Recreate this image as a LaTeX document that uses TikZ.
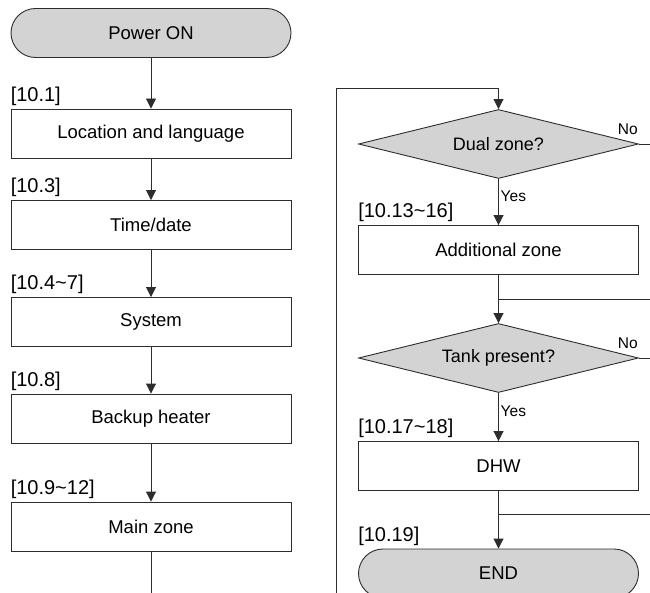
\documentclass[tikz,border=0pt]{standalone}
\usepackage{fontspec}
\setmainfont{Liberation Sans}
\usetikzlibrary{shapes.geometric,arrows.meta,positioning}
\definecolor{LineGray}{RGB}{45,45,45}
\definecolor{FillGray}{RGB}{211,211,211}
\tikzset{
  sbox/.style={draw=LineGray,fill=white,rectangle,minimum width=280pt,
               minimum height=49pt,inner sep=0pt,
               font=\fontsize{18.5}{22}\selectfont,line width=0.9pt},
  tbox/.style={sbox,fill=FillGray,rounded corners=24.5pt},
  dbox/.style={draw=LineGray,fill=FillGray,diamond,aspect=4,inner sep=0pt,
               minimum width=280pt,minimum height=69pt,
               font=\fontsize{18}{22}\selectfont,line width=0.9pt},
  tag/.style={inner sep=0pt,font=\fontsize{20}{24}\selectfont},
  ans/.style={inner sep=0pt,font=\fontsize{15.5}{18}\selectfont},
  arr/.style={-{Triangle[length=10pt,width=10pt]},LineGray,line width=0.9pt},
  wire/.style={LineGray,line width=0.9pt},
}

\begin{document}
\begin{tikzpicture}[x=1pt,y=-1pt]
  \useasboundingbox (0,0) rectangle (650,593);
  \clip (0,0) rectangle (650,593);

  % left column
  \node[tbox] (power) at (151,33) {Power ON};
  \node[sbox] (loc) at (151,133.5) {Location and language};
  \node[sbox] (time) at (151,225) {Time/date};
  \node[sbox] (sys) at (151,322) {System};
  \node[sbox] (backup) at (151,418.5) {Backup heater};
  \node[sbox] (mainz) at (151,526.5) {Main zone};

  \node[tag, above right=3pt and 0pt of loc.north west] (tagloc) {[10.1]};
  \node[tag, above right=3pt and 0pt of time.north west] (tagtime) {[10.3]};
  \node[tag, above right=3pt and 0pt of sys.north west] (tagsys) {[10.4\textasciitilde7]};
  \node[tag, above right=3pt and 0pt of backup.north west] (tagbackup) {[10.8]};
  \node[tag, above right=3pt and 0pt of mainz.north west] (tagmainz) {[10.9\textasciitilde12]};

  \coordinate (mainout) at (151,593);

  \draw[arr] (power) -- (loc);
  \draw[arr] (loc) -- (time);
  \draw[arr] (time) -- (sys);
  \draw[arr] (sys) -- (backup);
  \draw[arr] (backup) -- (mainz);
  \draw[wire] (mainz) -- (mainout);

  % right column
  \node[dbox] (dual) at (498.5,144) {Dual zone?};
  \node[sbox] (addz) at (498.5,250) {Additional zone};
  \node[dbox] (tank) at (498.5,358) {Tank present?};
  \node[sbox] (dhw) at (498.5,466) {DHW};
  \node[tbox] (finish) at (498.5,573.5) {END};

  \node[tag, above right=3pt and 0pt of addz.north west] (tagaddz) {[10.13\textasciitilde16]};
  \node[tag, above right=3pt and 0pt of dhw.north west] (tagdhw) {[10.17\textasciitilde18]};
  \node[tag, above right=3pt and 0pt of finish.north west] (tagfinish) {[10.19]};

  \node[ans, below right=12pt and 2pt of dual.south] (yesdual) {Yes};
  \node[ans, below right=13pt and 2pt of tank.south] (yestank) {Yes};
  \node[ans, above left=9pt and 1pt of dual.east] (nodual) {No};
  \node[ans, above left=9pt and 1pt of tank.east] (notank) {No};

  \coordinate (loopin) at (336,593);
  \coordinate (looptop) at (498.5,88);
  \coordinate (dualout) at (650,144);
  \coordinate (tankout) at (650,358);
  \coordinate (joina) at (498.5,299);
  \coordinate (joinaout) at (650,299);
  \coordinate (joinb) at (498.5,514);
  \coordinate (joinbout) at (650,514);

  \draw[arr] (loopin) |- (looptop) -- (dual);
  \draw[arr] (dual) -- (addz);
  \draw[arr] (addz) -- (tank);
  \draw[arr] (tank) -- (dhw);
  \draw[arr] (dhw) -- (finish);
  \draw[wire] (dual.east) -- (dualout);
  \draw[wire] (tank.east) -- (tankout);
  \draw[wire] (joina) -- (joinaout);
  \draw[wire] (joinb) -- (joinbout);
\end{tikzpicture}
\end{document}
